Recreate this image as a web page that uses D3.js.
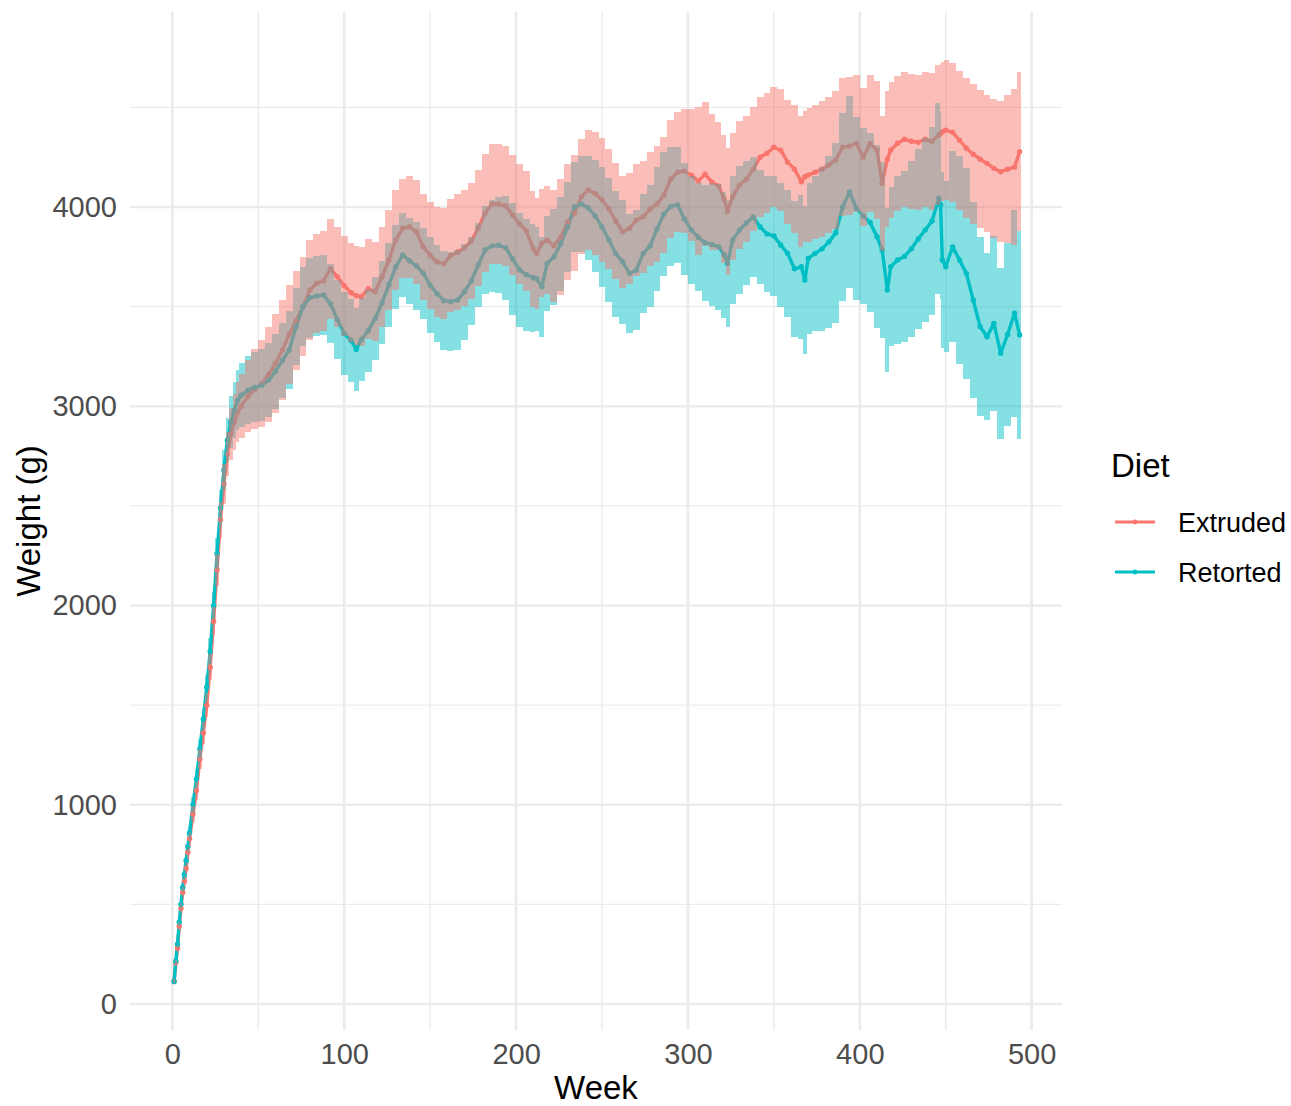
<!DOCTYPE html>
<html>
<head>
<meta charset="utf-8">
<script src="https://d3js.org/d3.v7.min.js"></script>
<style>
  body { margin: 0; background: #fff; }
  text { font-family: "Liberation Sans", Arial, Helvetica, sans-serif; }
</style>
</head>
<body>
<script>
// week of measurement (shared by both diets)
var weeks = [1,2,3,4,5,6,7,8,9,10,12,14,16,18,20,22,24,26,28,30,32,34,36,38,
  40,44,48,52,56,60,64,68,72,76,80,84,88,92,96,100,104,107,110,114,118,122,126,130,134,138,
  142,146,150,154,158,162,166,170,174,178,182,186,190,194,198,202,206,210,212,215,218,222,226,230,
  234,238,242,246,250,254,258,262,266,270,274,278,282,286,290,294,298,302,306,310,314,318,321,323,
  326,330,334,338,342,346,350,354,358,362,366,368,370,374,378,382,386,390,394,398,402,406,410,413,
  416,418,422,426,430,434,438,442,446,447,448,450,454,458,462,466,470,474,478,482,486,490,493];

var extrudedMean = [113,208,280,390,480,560,615,680,760,830,954,1070,1230,1360,1500,1690,1920,2180,2430,2610,2760,2860,2920,2970,
  3000,3050,3085,3115,3160,3215,3282,3360,3430,3500,3583,3617,3630,3690,3650,3605,3570,3555,3550,3590,3575,3650,3734,3835,3893,3901,
  3876,3800,3757,3724,3716,3757,3774,3795,3830,3895,3970,4015,4015,4005,3960,3915,3880,3790,3767,3818,3834,3805,3850,3925,
  3970,4052,4085,4068,4035,3990,3930,3876,3893,3935,3951,3990,4015,4060,4140,4175,4180,4160,4130,4165,4125,4105,4040,3977,
  4052,4110,4140,4190,4250,4270,4300,4285,4225,4190,4127,4152,4160,4175,4190,4211,4236,4300,4305,4320,4250,4318,4286,4118,
  4240,4286,4320,4340,4330,4325,4340,4330,4362,4370,4378,4386,4375,4335,4295,4265,4240,4219,4194,4177,4190,4200,4278];

var extrudedErr = [10,15,20,20,25,25,30,30,30,35,40,45,50,55,60,65,70,80,90,100,110,130,140,150,
  160,180,200,220,240,250,250,250,250,250,250,250,250,250,250,250,250,250,250,250,250,250,250,250,250,255,
  260,265,270,275,280,285,290,290,290,290,295,300,300,300,300,300,300,290,280,270,270,280,290,290,
  290,290,300,310,310,300,290,280,280,280,280,285,290,290,295,300,310,330,370,360,340,320,320,320,
  320,320,315,310,300,300,300,305,310,320,330,330,335,335,340,340,345,345,345,345,345,345,345,340,
  340,340,340,340,340,340,340,345,350,350,350,350,350,350,350,350,345,345,350,355,370,390,400];

var retortedMean = [113,215,300,410,500,585,650,720,790,860,1000,1130,1280,1430,1590,1770,2000,2260,2490,2680,2830,2920,2980,3030,
  3055,3080,3095,3105,3130,3175,3230,3282,3400,3500,3545,3553,3558,3515,3435,3365,3330,3285,3335,3380,3440,3520,3610,3700,3759,3730,
  3705,3667,3608,3565,3530,3525,3533,3575,3630,3710,3785,3805,3808,3795,3740,3685,3660,3645,3640,3600,3716,3750,3815,3900,
  4001,4015,3995,3955,3900,3835,3765,3725,3667,3684,3767,3805,3890,3965,4003,4010,3940,3884,3848,3820,3812,3800,3760,3717,
  3834,3884,3920,3950,3900,3865,3855,3809,3767,3690,3700,3634,3742,3767,3790,3825,3870,4000,4075,3993,3955,3922,3851,3784,
  3583,3700,3734,3752,3790,3840,3884,3930,4043,4010,3734,3700,3800,3734,3667,3533,3400,3349,3416,3266,3360,3467,3358];

var retortedErr = [10,15,20,20,25,25,30,30,30,35,40,45,50,55,60,65,70,80,90,100,110,130,140,150,
  160,170,175,180,185,190,190,195,195,200,200,200,200,200,200,210,210,210,210,210,210,210,210,210,210,215,
  220,230,240,245,250,250,250,240,220,210,220,230,240,260,280,285,280,270,260,250,240,240,235,225,
  225,240,260,280,300,310,315,310,300,300,300,305,310,310,300,290,280,270,270,290,310,315,315,320,
  320,320,310,300,285,290,300,310,320,340,360,370,380,390,410,430,450,470,480,460,440,450,460,440,
  410,400,420,430,440,450,460,470,480,470,440,430,480,520,530,490,450,420,440,430,460,520,520];

var diets = ["Extruded", "Retorted"];
var colors = ["#F8766D", "#00BFC4"];
var xTicks = [0, 100, 200, 300, 400, 500];
var xMinor = [50, 150, 250, 350, 450];
var yTicks = [0, 1000, 2000, 3000, 4000];
var yMinor = [500, 1500, 2500, 3500, 4500];

var series = [
  { name: diets[0], color: colors[0], mean: extrudedMean, err: extrudedErr },
  { name: diets[1], color: colors[1], mean: retortedMean, err: retortedErr }
];
series.forEach(function (s) {
  s.points = weeks.map(function (wk, i) { return { week: wk, mean: s.mean[i], err: s.err[i] }; });
});

var width = 1291, height = 1106;
var pLeft = 130, pRight = 1062, pTop = 12, pBottom = 1030;

var svg = d3.select("body").append("svg").attr("width", width).attr("height", height);

var x = d3.scaleLinear().domain([-24.65, 517.65]).range([pLeft, pRight]);
var y = d3.scaleLinear().domain([-130.5, 4978.7]).range([pBottom, pTop]);

// grid
var grid = svg.append("g");
grid.selectAll(".vmin").data(xMinor).enter().append("line")
  .attr("x1", function (d) { return x(d); }).attr("x2", function (d) { return x(d); })
  .attr("y1", pTop).attr("y2", pBottom).attr("stroke", "#EBEBEB").attr("stroke-width", 1.4);
grid.selectAll(".hmin").data(yMinor).enter().append("line")
  .attr("y1", function (d) { return y(d); }).attr("y2", function (d) { return y(d); })
  .attr("x1", pLeft).attr("x2", pRight).attr("stroke", "#EBEBEB").attr("stroke-width", 1.4);
grid.selectAll(".vmaj").data(xTicks).enter().append("line")
  .attr("x1", function (d) { return x(d); }).attr("x2", function (d) { return x(d); })
  .attr("y1", pTop).attr("y2", pBottom).attr("stroke", "#EBEBEB").attr("stroke-width", 2.7);
grid.selectAll(".hmaj").data(yTicks).enter().append("line")
  .attr("y1", function (d) { return y(d); }).attr("y2", function (d) { return y(d); })
  .attr("x1", pLeft).attr("x2", pRight).attr("stroke", "#EBEBEB").attr("stroke-width", 2.7);

// axes (labels only)
var xAxis = svg.append("g").attr("transform", "translate(0," + pBottom + ")")
  .call(d3.axisBottom(x).tickValues(xTicks).tickFormat(d3.format("d")).tickSize(0).tickPadding(13));
var yAxis = svg.append("g").attr("transform", "translate(" + pLeft + ",0)")
  .call(d3.axisLeft(y).tickValues(yTicks).tickFormat(d3.format("d")).tickSize(0).tickPadding(13));
[xAxis, yAxis].forEach(function (a) {
  a.select(".domain").remove();
  a.selectAll("text").attr("fill", "#4D4D4D").style("font-size", "29px")
    .style("font-family", "'Liberation Sans', Arial, sans-serif");
});

// lines and points
var line = d3.line().x(function (d) { return x(d.week); }).y(function (d) { return y(d.mean); });
series.forEach(function (s) {
  svg.append("path").datum(s.points).attr("d", line)
    .attr("fill", "none").attr("stroke", s.color).attr("stroke-width", 3.4)
    .attr("stroke-linejoin", "round");
});
series.forEach(function (s) {
  svg.append("g").selectAll("circle").data(s.points).enter().append("circle")
    .attr("cx", function (d) { return x(d.week); })
    .attr("cy", function (d) { return y(d.mean); })
    .attr("r", 2.7).attr("fill", s.color);
});

// error bars: teal below, pink on top
function barEdges(i) {
  var cx = x(weeks[i]);
  var l = i > 0 ? (x(weeks[i - 1]) + cx) / 2 : cx - 0.9;
  var r = i < weeks.length - 1 ? (x(weeks[i + 1]) + cx) / 2 : cx + 0.9;
  return [l, r];
}
[series[1], series[0]].forEach(function (s) {
  svg.append("g").attr("opacity", 0.48).selectAll("rect").data(s.points).enter().append("rect")
    .attr("x", function (d, i) { return barEdges(i)[0]; })
    .attr("width", function (d, i) { var e = barEdges(i); return e[1] - e[0]; })
    .attr("y", function (d) { return y(d.mean + d.err); })
    .attr("height", function (d) { return y(d.mean - d.err) - y(d.mean + d.err); })
    .attr("fill", s.color).attr("shape-rendering", "crispEdges");
});

// axis titles
svg.append("text").attr("x", (pLeft + pRight) / 2).attr("y", 1099)
  .attr("text-anchor", "middle").attr("font-size", 33).attr("fill", "#000").text("Week");
svg.append("text").attr("transform", "translate(40," + ((pTop + pBottom) / 2) + ") rotate(-90)")
  .attr("text-anchor", "middle").attr("font-size", 33).attr("fill", "#000").text("Weight (g)");

// legend
var legend = svg.append("g");
legend.append("text").attr("x", 1111).attr("y", 477).attr("font-size", 33).attr("fill", "#000").text("Diet");
series.forEach(function (s, i) {
  var ly = 522 + i * 50;
  legend.append("line").attr("x1", 1115).attr("x2", 1155).attr("y1", ly).attr("y2", ly)
    .attr("stroke", s.color).attr("stroke-width", 2.8);
  legend.append("circle").attr("cx", 1135).attr("cy", ly).attr("r", 2.4).attr("fill", s.color);
  legend.append("text").attr("x", 1178).attr("y", ly + 9.5).attr("font-size", 27)
    .attr("fill", "#000").text(s.name);
});
</script>
</body>
</html>
